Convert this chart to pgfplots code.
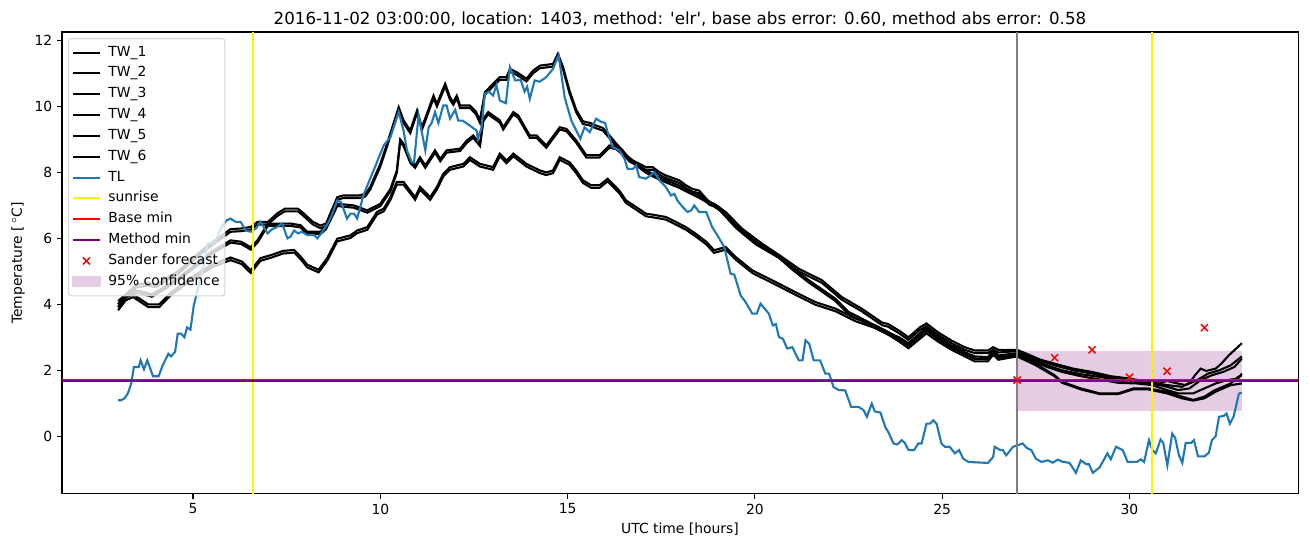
\documentclass[border=0pt]{standalone}
\usepackage{pgfplots}
\pgfplotsset{compat=1.18}
\usepackage{fontspec}
\setmainfont{DejaVu Sans}
\definecolor{tlblue}{RGB}{31,119,180}
\definecolor{mplpurple}{RGB}{128,0,128}
\definecolor{mplgray}{RGB}{128,128,128}
\definecolor{bandcol}{RGB}{229,204,229}
\definecolor{legedge}{RGB}{214,214,214}
\begin{document}
\begin{tikzpicture}
\path[use as bounding box] (-44.6pt,-38.2pt) rectangle (898.5pt,355.6pt);
\begin{axis}[
  at={(0,0)}, anchor=south west,
  scale only axis, width=889.9pt, height=332.6pt,
  xmin=1.5, xmax=34.5, ymin=-1.75, ymax=12.26,
  xtick={5,10,15,20,25,30}, ytick={0,2,4,6,8,10,12},
  tick pos=left, tick align=outside, major tick length=3.5pt,
  major tick style={black, line width=0.8pt},
  axis line style={line width=0.8pt},
  tick label style={font=\fontsize{10}{12}\selectfont},
  /pgf/number format/assume math mode=true,
  xlabel={UTC time [hours]}, ylabel={Temperature [\,$^\circ$C]},
  every axis x label/.style={at={(axis description cs:0.5,-0.0758)}, anchor=center, font=\fontsize{10}{12}\selectfont},
  every axis y label/.style={at={(axis description cs:-0.0356,0.5)}, rotate=90, anchor=center, font=\fontsize{10}{12}\selectfont},
  title={2016-11-02 03:00:00, location: 1403, method: \textquotesingle elr\textquotesingle, base abs error: 0.60, method abs error: 0.58},
  every axis title/.style={at={(axis description cs:0.5,1)}, anchor=center, yshift=9.5pt, font=\fontsize{12}{14}\selectfont},
  legend image code/.code={\draw[mark repeat=2,mark phase=2,#1] plot coordinates {(0pt,0pt) (10pt,0pt) (20pt,0pt)};},
  legend cell align=left,
  legend style={at={(axis description cs:0,1)}, anchor=north west, xshift=4.3pt, yshift=-4.3pt,
    draw=legedge, fill=white, fill opacity=0.8, draw opacity=1, text opacity=1,
    rounded corners=2pt, line width=0.8pt, font=\fontsize{10}{12}\selectfont,
    inner xsep=2.2pt, inner ysep=3.2pt, row sep=1.1pt, column sep=3.5pt,
    nodes={inner xsep=1.5pt, inner ysep=2.45pt, text height=7pt, text depth=2pt}},
]
% 95% confidence band (drawn first, below lines)
\addplot[draw=none, fill=bandcol, forget plot] coordinates {(27,0.77) (27,2.58) (33,2.58) (33,0.77) (27,0.77)};

% TW_1
\addplot[black, line width=1.5pt] coordinates {(3.0,4.1) (3.2,4.3) (3.5,4.6) (3.8,4.65) (4.0,4.6) (4.3,4.8) (4.6,5.0) (5.0,5.4) (5.3,5.7) (5.6,5.95) (6.0,6.28) (6.3,6.3) (6.55,6.35) (6.72,6.5) (7.0,6.5) (7.25,6.76) (7.45,6.9) (7.8,6.9) (7.96,6.75) (8.2,6.5) (8.4,6.39) (8.55,6.45) (8.85,7.25) (9.0,7.3) (9.42,7.3) (9.6,7.35) (9.73,7.56) (10.0,8.26) (10.18,8.87) (10.3,9.3) (10.49,9.98) (10.62,9.58) (10.8,9.27) (10.98,9.88) (11.11,9.37) (11.25,9.8) (11.42,10.33) (11.51,10.08) (11.73,10.69) (11.86,10.28) (11.95,10.13) (12.04,10.33) (12.13,10.03) (12.39,10.03) (12.55,9.85) (12.66,9.58) (12.79,10.43) (13.01,10.69) (13.19,10.89) (13.37,10.89) (13.46,11.14) (13.64,11.04) (13.9,10.84) (14.08,11.09) (14.26,11.24) (14.61,11.29) (14.74,11.6) (14.88,11.19) (15.05,10.48) (15.23,9.9) (15.41,9.55) (15.6,9.5) (15.76,9.42) (15.94,9.35) (16.12,9.12) (16.3,8.87) (16.47,8.67) (16.65,8.41) (16.83,8.31) (17.09,8.16) (17.27,8.16) (17.45,8.01) (17.62,7.91) (17.98,7.76) (18.16,7.61) (18.33,7.5) (18.51,7.45) (18.78,7.1) (18.91,7.05) (19.22,6.8) (19.66,6.29) (20.19,5.84) (20.73,5.43) (21.17,5.08) (21.79,4.73) (22.32,4.22) (22.85,3.87) (23.39,3.45) (23.56,3.4) (23.85,3.2) (24.1,3.0) (24.4,3.3) (24.58,3.42) (24.89,3.15) (25.25,2.9) (25.6,2.7) (25.87,2.6) (26.22,2.6) (26.36,2.7) (26.5,2.62) (27.0,2.62) (27.3,2.48) (27.6,2.33) (28.0,2.2) (28.5,2.05) (29.0,1.95) (29.5,1.82) (30.0,1.75) (30.5,1.65) (31.0,1.55) (31.4,1.5) (31.6,1.62) (31.75,1.85) (31.9,2.05) (32.05,1.98) (32.3,2.05) (32.45,2.2) (32.65,2.45) (33.0,2.82)};
\addlegendentry{TW\_1}
% TW_2
\addplot[black, line width=1.5pt] coordinates {(3.0,4.02) (3.2,4.22) (3.5,4.52) (3.8,4.57) (4.0,4.52) (4.3,4.72) (4.6,4.92) (5.0,5.32) (5.3,5.62) (5.6,5.87) (6.0,6.2) (6.3,6.22) (6.55,6.27) (6.72,6.42) (7.0,6.42) (7.25,6.68) (7.45,6.82) (7.8,6.82) (7.96,6.67) (8.2,6.42) (8.4,6.31) (8.55,6.37) (8.85,7.17) (9.0,7.22) (9.42,7.22) (9.6,7.27) (9.73,7.48) (10.0,8.18) (10.18,8.79) (10.3,9.22) (10.49,9.9) (10.62,9.5) (10.8,9.19) (10.98,9.8) (11.11,9.29) (11.25,9.72) (11.42,10.25) (11.51,10.0) (11.73,10.61) (11.86,10.2) (11.95,10.05) (12.04,10.25) (12.13,9.95) (12.39,9.95) (12.55,9.77) (12.66,9.5) (12.79,10.35) (13.01,10.61) (13.19,10.81) (13.37,10.81) (13.46,11.06) (13.64,10.96) (13.9,10.76) (14.08,11.01) (14.26,11.16) (14.61,11.21) (14.74,11.52) (14.88,11.11) (15.05,10.4) (15.23,9.82) (15.41,9.47) (15.6,9.42) (15.76,9.34) (15.94,9.27) (16.12,9.04) (16.3,8.79) (16.47,8.59) (16.65,8.33) (16.83,8.23) (17.09,8.08) (17.27,8.08) (17.45,7.93) (17.62,7.83) (17.98,7.68) (18.16,7.53) (18.33,7.42) (18.51,7.37) (18.78,7.02) (18.91,6.97) (19.22,6.72) (19.66,6.21) (20.19,5.76) (20.73,5.35) (21.17,5.0) (21.79,4.65) (22.32,4.14) (22.85,3.79) (23.39,3.37) (23.56,3.32) (23.85,3.12) (24.1,2.92) (24.4,3.22) (24.58,3.34) (24.89,3.07) (25.25,2.82) (25.6,2.62) (25.87,2.52) (26.22,2.52) (26.36,2.62) (26.5,2.54) (27.0,2.58) (27.3,2.45) (27.6,2.3) (28.0,2.15) (28.5,2.0) (29.0,1.9) (29.5,1.78) (30.0,1.72) (30.5,1.62) (30.8,1.6) (31.0,1.68) (31.2,1.62) (31.5,1.55) (31.8,1.7) (32.1,1.9) (32.4,2.0) (32.7,2.15) (33.0,2.42)};
\addlegendentry{TW\_2}
% TW_3
\addplot[black, line width=1.5pt] coordinates {(3.0,4.0) (3.3,4.4) (3.6,4.4) (3.9,4.3) (4.2,4.5) (4.6,4.8) (5.0,5.15) (5.5,5.6) (6.0,5.94) (6.28,5.9) (6.54,5.73) (6.72,5.94) (6.99,6.44) (7.6,6.45) (7.87,6.4) (8.05,6.2) (8.4,6.2) (8.55,6.35) (8.85,7.05) (9.29,7.0) (9.65,6.85) (10.0,7.05) (10.27,7.5) (10.44,8.06) (10.53,9.0) (10.62,8.87) (10.8,8.36) (10.93,8.21) (11.06,8.46) (11.2,8.21) (11.46,8.67) (11.6,8.41) (11.77,8.67) (12.13,8.72) (12.31,8.97) (12.48,9.12) (12.66,8.87) (12.75,9.63) (12.88,9.83) (13.19,9.58) (13.28,9.37) (13.55,9.83) (13.68,9.73) (13.99,9.12) (14.17,9.12) (14.43,8.82) (14.79,9.37) (14.97,9.32) (15.23,8.97) (15.5,8.52) (15.85,8.52) (16.12,8.82) (16.3,8.77) (16.74,8.36) (17.09,8.06) (17.45,7.85) (17.98,7.6) (18.51,7.3) (19.04,6.95) (19.49,6.39) (20.02,5.89) (20.64,5.48) (20.99,5.13) (21.44,4.73) (22.15,4.17) (22.5,3.77) (22.85,3.57) (23.56,3.15) (23.85,3.0) (24.1,2.82) (24.58,3.3) (24.89,3.0) (25.25,2.75) (25.6,2.55) (25.87,2.42) (26.22,2.4) (26.36,2.6) (26.5,2.45) (27.0,2.52) (27.4,2.35) (27.8,2.15) (28.2,2.0) (28.7,1.88) (29.2,1.8) (29.7,1.7) (30.2,1.65) (30.6,1.6) (31.0,1.5) (31.3,1.4) (31.6,1.45) (31.9,1.7) (32.2,1.85) (32.5,1.95) (32.8,2.1) (33.0,2.35)};
\addlegendentry{TW\_3}
% TW_4
\addplot[black, line width=1.5pt] coordinates {(3.0,3.93) (3.3,4.33) (3.6,4.33) (3.9,4.23) (4.2,4.43) (4.6,4.73) (5.0,5.08) (5.5,5.53) (6.0,5.87) (6.28,5.83) (6.54,5.66) (6.72,5.87) (6.99,6.37) (7.6,6.38) (7.87,6.33) (8.05,6.13) (8.4,6.13) (8.55,6.28) (8.85,6.98) (9.29,6.93) (9.65,6.78) (10.0,6.98) (10.27,7.43) (10.44,7.99) (10.53,8.93) (10.62,8.8) (10.8,8.29) (10.93,8.14) (11.06,8.39) (11.2,8.14) (11.46,8.6) (11.6,8.34) (11.77,8.6) (12.13,8.65) (12.31,8.9) (12.48,9.05) (12.66,8.8) (12.75,9.56) (12.88,9.76) (13.19,9.51) (13.28,9.3) (13.55,9.76) (13.68,9.66) (13.99,9.05) (14.17,9.05) (14.43,8.75) (14.79,9.3) (14.97,9.25) (15.23,8.9) (15.5,8.45) (15.85,8.45) (16.12,8.75) (16.3,8.7) (16.74,8.29) (17.09,7.99) (17.45,7.78) (17.98,7.53) (18.51,7.23) (19.04,6.88) (19.49,6.32) (20.02,5.82) (20.64,5.41) (20.99,5.06) (21.44,4.66) (22.15,4.1) (22.5,3.7) (22.85,3.5) (23.56,3.08) (23.85,2.93) (24.1,2.75) (24.58,3.23) (24.89,2.93) (25.25,2.68) (25.6,2.48) (25.87,2.35) (26.22,2.33) (26.36,2.53) (26.5,2.38) (27.0,2.48) (27.4,2.3) (27.8,2.1) (28.2,1.95) (28.7,1.82) (29.2,1.72) (29.7,1.62) (30.2,1.6) (30.6,1.55) (31.0,1.4) (31.3,1.3) (31.7,1.3) (32.0,1.45) (32.3,1.6) (32.6,1.7) (32.9,1.75) (33.0,1.9)};
\addlegendentry{TW\_4}
% TW_5
\addplot[black, line width=1.5pt] coordinates {(3.0,3.9) (3.2,4.2) (3.4,4.3) (3.6,4.15) (3.8,4.0) (4.1,4.0) (4.4,4.35) (4.7,4.6) (5.0,4.85) (5.5,5.2) (6.0,5.42) (6.3,5.3) (6.54,5.03) (6.8,5.4) (7.1,5.5) (7.4,5.62) (7.7,5.65) (7.87,5.45) (8.05,5.2) (8.35,5.05) (8.58,5.4) (8.85,5.99) (9.2,6.09) (9.38,6.24) (9.65,6.34) (9.91,6.8) (10.09,6.9) (10.27,7.25) (10.44,7.71) (10.62,7.71) (10.93,7.25) (11.06,7.56) (11.33,7.25) (11.51,7.56) (11.68,7.96) (11.86,8.16) (12.22,8.26) (12.39,8.46) (12.66,8.26) (13.01,8.16) (13.19,8.57) (13.37,8.36) (13.55,8.57) (13.9,8.26) (14.26,8.06) (14.43,8.0) (14.61,8.06) (14.79,8.46) (15.05,8.31) (15.23,8.06) (15.41,7.76) (15.63,7.61) (15.85,7.61) (16.07,7.81) (16.38,7.45) (16.56,7.15) (16.83,6.95) (17.09,6.75) (17.27,6.72) (17.62,6.65) (17.89,6.5) (18.16,6.34) (18.42,6.14) (18.7,5.9) (18.91,5.64) (19.22,5.74) (19.49,5.43) (19.93,5.03) (20.46,4.73) (21.08,4.37) (21.61,4.07) (22.15,3.87) (22.68,3.57) (23.21,3.36) (23.56,3.16) (23.85,2.95) (24.1,2.75) (24.58,3.2) (24.89,2.95) (25.25,2.7) (25.6,2.5) (25.87,2.35) (26.22,2.35) (26.36,2.55) (26.5,2.4) (27.0,2.45) (27.5,2.2) (28.0,1.85) (28.2,1.65) (28.7,1.45) (29.2,1.3) (29.7,1.3) (30.1,1.45) (30.5,1.45) (31.0,1.35) (31.4,1.2) (31.7,1.1) (32.0,1.2) (32.25,1.38) (32.7,1.6) (32.9,1.8) (33.0,1.85)};
\addlegendentry{TW\_5}
% TW_6
\addplot[black, line width=1.5pt] coordinates {(3.0,3.82) (3.2,4.12) (3.4,4.22) (3.6,4.07) (3.8,3.92) (4.1,3.92) (4.4,4.27) (4.7,4.52) (5.0,4.77) (5.5,5.12) (6.0,5.34) (6.3,5.22) (6.54,4.95) (6.8,5.32) (7.1,5.42) (7.4,5.54) (7.7,5.57) (7.87,5.37) (8.05,5.12) (8.35,4.97) (8.58,5.32) (8.85,5.91) (9.2,6.01) (9.38,6.16) (9.65,6.26) (9.91,6.72) (10.09,6.82) (10.27,7.17) (10.44,7.63) (10.62,7.63) (10.93,7.17) (11.06,7.48) (11.33,7.17) (11.51,7.48) (11.68,7.88) (11.86,8.08) (12.22,8.18) (12.39,8.38) (12.66,8.18) (13.01,8.08) (13.19,8.49) (13.37,8.28) (13.55,8.49) (13.9,8.18) (14.26,7.98) (14.43,7.92) (14.61,7.98) (14.79,8.38) (15.05,8.23) (15.23,7.98) (15.41,7.68) (15.63,7.53) (15.85,7.53) (16.07,7.73) (16.38,7.37) (16.56,7.07) (16.83,6.87) (17.09,6.67) (17.27,6.64) (17.62,6.57) (17.89,6.42) (18.16,6.26) (18.42,6.06) (18.7,5.82) (18.91,5.56) (19.22,5.66) (19.49,5.35) (19.93,4.95) (20.46,4.65) (21.08,4.29) (21.61,3.99) (22.15,3.79) (22.68,3.49) (23.21,3.28) (23.56,3.08) (23.85,2.87) (24.1,2.67) (24.58,3.12) (24.89,2.87) (25.25,2.62) (25.6,2.42) (25.87,2.27) (26.22,2.27) (26.36,2.47) (26.5,2.32) (27.0,2.42) (27.5,2.15) (28.0,1.82) (28.2,1.62) (28.7,1.42) (29.2,1.28) (29.7,1.28) (30.1,1.42) (30.5,1.42) (31.0,1.3) (31.4,1.15) (31.7,1.08) (32.0,1.15) (32.3,1.35) (32.7,1.55) (33.0,1.6)};
\addlegendentry{TW\_6}
% TL
\addplot[tlblue, line width=1.5pt] coordinates {(3.0,1.09) (3.08,1.09) (3.17,1.15) (3.26,1.3) (3.35,1.6) (3.42,2.1) (3.55,2.1) (3.6,2.3) (3.69,2.03) (3.78,2.3) (3.93,1.82) (4.08,1.82) (4.19,2.15) (4.34,2.5) (4.41,2.42) (4.52,2.56) (4.59,3.11) (4.68,3.11) (4.77,3.0) (4.84,3.3) (4.93,3.23) (5.02,3.97) (5.12,4.42) (5.2,4.8) (5.3,5.3) (5.39,5.85) (5.5,5.85) (5.6,5.9) (5.7,6.2) (5.8,6.4) (5.9,6.55) (6.0,6.6) (6.14,6.5) (6.27,6.5) (6.41,6.24) (6.54,6.2) (6.68,6.3) (6.8,6.5) (6.99,6.15) (7.1,6.27) (7.25,6.35) (7.38,6.45) (7.52,6.0) (7.6,6.05) (7.7,6.24) (7.8,6.15) (7.9,6.2) (8.05,6.1) (8.23,6.1) (8.32,6.0) (8.45,6.2) (8.6,6.45) (8.7,6.7) (8.85,7.15) (8.95,7.1) (9.11,6.6) (9.2,6.75) (9.3,6.75) (9.38,6.6) (9.56,7.35) (9.82,8.06) (10.09,8.82) (10.27,9.07) (10.49,9.83) (10.62,9.27) (10.71,8.67) (10.84,8.31) (10.9,8.3) (11.02,9.73) (11.1,9.27) (11.2,8.67) (11.29,9.37) (11.37,9.5) (11.46,9.83) (11.55,9.5) (11.68,10.03) (11.77,10.03) (11.86,9.63) (12.0,9.9) (12.08,9.57) (12.2,9.57) (12.39,9.42) (12.57,9.27) (12.6,9.02) (12.7,9.35) (12.79,10.38) (12.9,10.45) (13.01,10.33) (13.1,10.64) (13.19,10.18) (13.35,10.1) (13.46,11.19) (13.6,10.79) (13.75,10.8) (13.85,10.45) (13.92,10.6) (13.99,10.23) (14.12,10.79) (14.25,10.75) (14.43,10.89) (14.61,11.14) (14.7,11.39) (14.76,11.55) (14.92,10.28) (15.1,9.57) (15.34,9.02) (15.45,9.37) (15.59,9.22) (15.76,9.63) (15.9,9.53) (16.0,9.5) (16.07,9.22) (16.2,8.77) (16.38,8.67) (16.52,8.41) (16.6,8.11) (16.75,8.11) (16.83,8.21) (16.91,7.86) (17.09,7.81) (17.2,7.9) (17.31,8.01) (17.45,7.76) (17.62,7.56) (17.76,7.3) (17.85,7.35) (17.93,7.15) (18.07,6.95) (18.2,6.8) (18.3,6.85) (18.38,7.0) (18.51,6.8) (18.7,6.8) (18.86,6.34) (19.0,6.09) (19.18,5.74) (19.35,4.93) (19.45,4.9) (19.62,4.27) (19.75,4.07) (19.93,3.72) (20.05,3.72) (20.15,4.02) (20.37,3.72) (20.48,3.36) (20.56,3.4) (20.64,3.01) (20.75,2.95) (20.86,2.66) (21.0,2.7) (21.17,2.3) (21.27,2.3) (21.35,2.91) (21.45,2.8) (21.57,2.3) (21.74,2.3) (21.88,1.9) (21.98,1.9) (22.1,1.49) (22.24,1.4) (22.41,1.39) (22.57,0.89) (22.77,0.89) (22.9,0.79) (22.99,0.59) (23.12,0.99) (23.2,0.75) (23.35,0.72) (23.48,0.28) (23.56,0.13) (23.7,-0.22) (23.8,-0.25) (23.92,-0.12) (24.0,-0.2) (24.1,-0.42) (24.25,-0.42) (24.36,-0.22) (24.45,-0.22) (24.58,0.38) (24.67,0.38) (24.76,0.48) (24.85,0.38) (24.98,-0.22) (25.07,-0.32) (25.2,-0.32) (25.34,-0.52) (25.45,-0.42) (25.56,-0.68) (25.7,-0.78) (26.22,-0.81) (26.36,-0.63) (26.4,-0.32) (26.55,-0.42) (26.62,-0.42) (26.71,-0.58) (26.89,-0.32) (27.02,-0.27) (27.15,-0.22) (27.25,-0.35) (27.38,-0.42) (27.5,-0.68) (27.65,-0.78) (27.82,-0.73) (27.95,-0.8) (28.09,-0.71) (28.2,-0.77) (28.4,-0.81) (28.57,-1.11) (28.7,-0.73) (28.85,-0.85) (28.92,-0.85) (29.02,-1.11) (29.2,-0.95) (29.41,-0.52) (29.5,-0.7) (29.64,-0.32) (29.82,-0.42) (29.95,-0.78) (30.2,-0.78) (30.3,-0.7) (30.39,-0.78) (30.52,-0.12) (30.61,-0.42) (30.7,-0.52) (30.83,-0.1) (30.9,-0.2) (31.01,-0.88) (31.14,0.08) (31.22,-0.05) (31.32,-0.58) (31.41,-0.81) (31.5,-0.2) (31.65,-0.2) (31.72,-0.12) (31.83,-0.61) (32.0,-0.61) (32.12,-0.5) (32.2,-0.12) (32.3,0.0) (32.39,0.59) (32.52,0.62) (32.59,0.69) (32.68,0.38) (32.78,0.6) (32.92,1.29) (33.0,1.32)};
\addlegendentry{TL}
% now-line (gray)
\addplot[mplgray, line width=1.5pt, forget plot] coordinates {(27,-1.75) (27,12.26)};
% sunrise
\addplot[yellow, line width=1.5pt] coordinates {(6.6,-1.75) (6.6,12.26)};
\addlegendentry{sunrise}
\addplot[yellow, line width=1.5pt, forget plot] coordinates {(30.6,-1.75) (30.6,12.26)};
% base min and method min
\addplot[red, line width=1.5pt] coordinates {(1.5,1.715) (34.5,1.715)};
\addlegendentry{Base min}
\addplot[mplpurple, line width=1.5pt] coordinates {(1.5,1.685) (34.5,1.685)};
\addlegendentry{Method min}
% Sander forecast
\addplot[red, only marks, mark=x, mark size=3.6pt, line width=1.1pt] coordinates {(27,1.7) (28,2.38) (29,2.62) (30,1.79) (31,1.97) (32,3.29)};
\addlegendentry{Sander forecast}
\addlegendimage{legend image code/.code={\fill[bandcol, fill opacity=1, sharp corners] (0pt,-3.4pt) rectangle (20pt,3.4pt);}}
\addlegendentry{95\% confidence}
\end{axis}
\end{tikzpicture}
\end{document}
